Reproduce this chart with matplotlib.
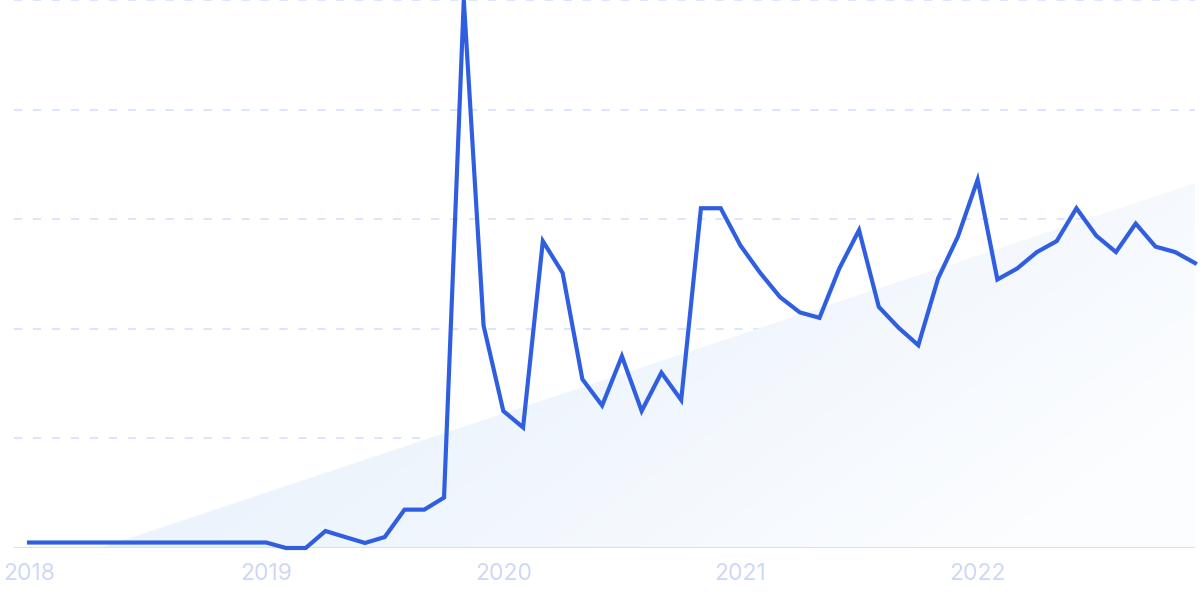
import numpy as np
import matplotlib
matplotlib.use("Agg")
import matplotlib.pyplot as plt
from matplotlib.patches import Polygon

plt.rcParams['font.family'] = ['Inter', 'DejaVu Sans']

# Monthly values Jan 2018 .. Dec 2022
values = [0.05, 0.05, 0.05, 0.05, 0.05, 0.05, 0.05, 0.05, 0.05, 0.05, 0.05, 0.05,
          0.05, 0.0, 0.0, 0.155, 0.1, 0.046, 0.1, 0.35, 0.35, 0.46, 5.0, 2.03,
          1.25, 1.10, 2.80, 2.51, 1.54, 1.30, 1.75, 1.25, 1.60, 1.35, 3.10, 3.10,
          2.76, 2.51, 2.29, 2.15, 2.10, 2.55, 2.90, 2.20, 2.01, 1.85, 2.46, 2.84,
          3.36, 2.45, 2.55, 2.70, 2.80, 3.10, 2.85, 2.70, 2.96, 2.75, 2.70, 2.60]
tick_labels = ["2018", "2019", "2020", "2021", "2022"]
tick_months = [0, 12, 24, 36, 48]
trend_x = [3.6, 59]
trend_y = [0.0, 3.33]
grid_levels = [1, 2, 3, 4, 5]

x = np.arange(len(values))

fig = plt.figure(figsize=(12, 6), dpi=100)
ax = fig.add_axes([14/1200, 52/600, (1195-14)/1200, 548/600])
ax.set_xlim(-0.76, 59)
ax.set_ylim(0, 5)

# trend gradient area
poly_pts = [(trend_x[0], 0), (trend_x[1], trend_y[1]), (trend_x[1], 0)]
poly = Polygon(poly_pts, closed=True, facecolor='none', edgecolor='none')
ax.add_patch(poly)
nx, ny = 300, 100
gx = np.linspace(0, 1, nx)
gy = np.linspace(0, 1, ny)
GX, GY = np.meshgrid(gx, gy)
t = np.clip(0.75 * GX + 0.35 * (1 - GY), 0, 1)
c0 = np.array([0.886, 0.929, 0.984])
c1 = np.array([0.99, 0.995, 1.0])
img = c0[None, None, :] * (1 - t[..., None]) + c1[None, None, :] * t[..., None]
im = ax.imshow(img, extent=[trend_x[0], trend_x[1], 0, trend_y[1]], origin='lower',
               aspect='auto', zorder=1, interpolation='bilinear')
im.set_clip_path(poly)

for g in grid_levels:
    ax.axhline(g, color='#d6e4fb', lw=1.3, dashes=(4.5, 6), zorder=0.5, clip_on=False)
ax.axhline(0, color='#d2e0fa', lw=1.5, zorder=2)

ax.plot(x, values, color='#2f5fe0', lw=3.0, zorder=3, solid_joinstyle='miter',
        clip_on=False)

for s in ax.spines.values():
    s.set_visible(False)
ax.set_yticks([])
ax.set_xticks(tick_months)
ax.set_xticklabels(tick_labels)
ax.tick_params(axis='x', length=0, pad=11, labelsize=16.5, labelcolor='#cdd9f4')

fig.savefig('out.png', dpi=100)
